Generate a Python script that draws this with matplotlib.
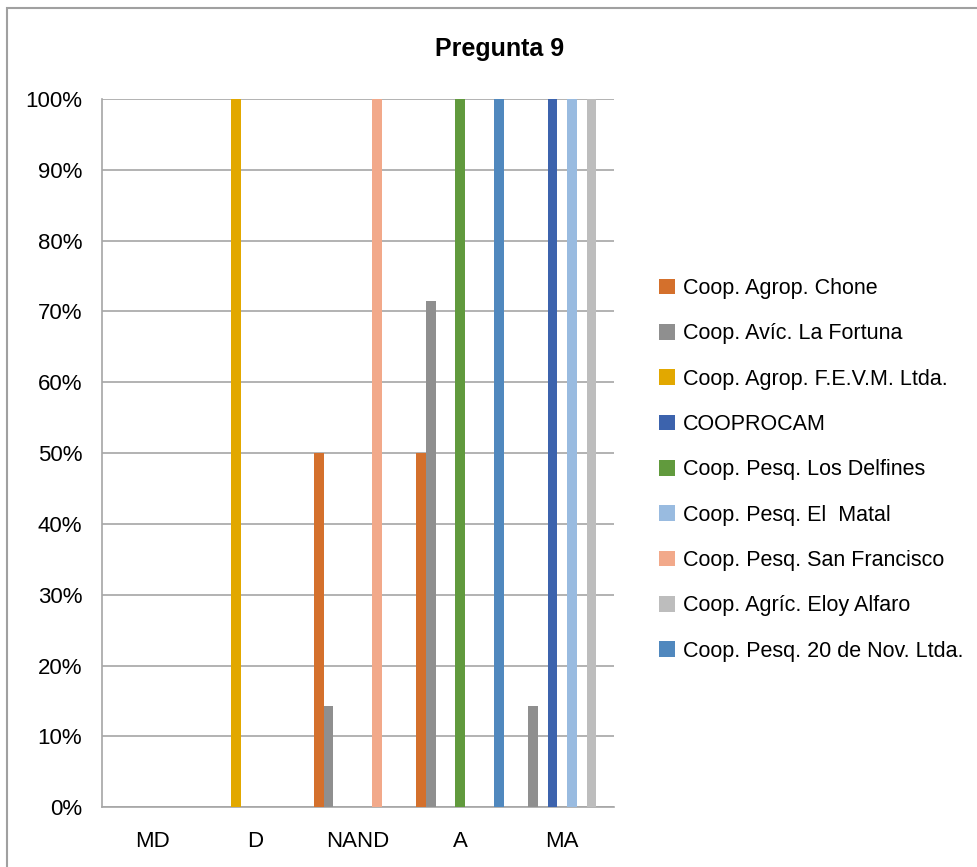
import matplotlib.pyplot as plt
import numpy as np
from matplotlib.patches import Rectangle, Patch

# ---- data ----
categories = ["MD", "D", "NAND", "A", "MA"]
series_names = ["Coop. Agrop. Chone", "Coop. Avíc. La Fortuna", "Coop. Agrop. F.E.V.M. Ltda.",
                "COOPROCAM", "Coop. Pesq. Los Delfines", "Coop. Pesq. El  Matal",
                "Coop. Pesq. San Francisco", "Coop. Agríc. Eloy Alfaro", "Coop. Pesq. 20 de Nov. Ltda."]
chone      = [0, 0, 0.50, 0.50, 0]
fortuna    = [0, 0, 0.143, 0.714, 0.143]
fevm       = [0, 1.0, 0, 0, 0]
cooprocam  = [0, 0, 0, 0, 1.0]
delfines   = [0, 0, 0, 1.0, 0]
matal      = [0, 0, 0, 0, 1.0]
sanfran    = [0, 0, 1.0, 0, 0]
eloy       = [0, 0, 0, 0, 1.0]
nov20      = [0, 0, 0, 1.0, 0]
values = [chone, fortuna, fevm, cooprocam, delfines, matal, sanfran, eloy, nov20]
colors = ["#D4702C", "#8F8F8F", "#E2A800", "#3C63AD", "#619A3D",
          "#99BBE0", "#F2A98A", "#BDBDBD", "#5088BE"]

plt.rcParams['font.family'] = ["Liberation Sans Narrow", "Liberation Sans", "DejaVu Sans"]

fig = plt.figure(figsize=(9.77, 8.67), dpi=100)
ax = fig.add_axes([0.104, 0.069, 0.524, 0.817])

x = np.arange(len(categories))
w = 0.095
for i, (vals, c) in enumerate(zip(values, colors)):
    ax.bar(x + (i - 4) * w, vals, width=w, color=c, zorder=3)

ax.set_xlim(-0.5, len(categories) - 0.5)
ax.set_ylim(0, 1.0)
ax.set_yticks(np.arange(0, 1.01, 0.1))
ax.set_yticklabels([f"{int(round(v*100))}%" for v in np.arange(0, 1.01, 0.1)])
ax.set_xticks(x)
ax.set_xticklabels(categories)
ax.tick_params(axis='both', length=0, labelsize=16, colors="#000000")
ax.tick_params(axis='y', pad=14)
ax.tick_params(axis='x', pad=17)
ax.yaxis.grid(True, color="#A6A6A6", linewidth=1.2, zorder=0)
for s in ["top", "right"]:
    ax.spines[s].set_visible(False)
for s in ["left", "bottom"]:
    ax.spines[s].set_color("#A6A6A6")
    ax.spines[s].set_linewidth(1.2)

fig.text(0.511, 0.944, "Pregunta 9", ha="center", va="center", fontsize=18, fontweight="bold")

handles = [Patch(facecolor=c, edgecolor="none") for c in colors]
fig.legend(handles, series_names, loc="center left", bbox_to_anchor=(0.655, 0.458),
           frameon=False, fontsize=15.5, handlelength=0.75, handleheight=0.75,
           handletextpad=0.35, labelspacing=1.13)

# outer chart border
fig.patches.append(Rectangle((0.007, -0.01), 1.2, 1.0 - 0.009 + 0.01, transform=fig.transFigure,
                             fill=False, edgecolor="#A0A0A0", linewidth=1.5))

fig.savefig("out.png", dpi=100)
